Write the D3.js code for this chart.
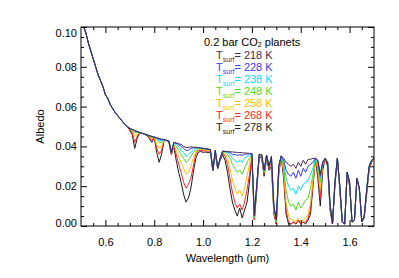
<!DOCTYPE html>
<html>
<head>
<meta charset="utf-8">
<script src="https://cdn.jsdelivr.net/npm/d3@7"></script>
<style>
  body { margin: 0; background: #fff; }
  svg { display: block; }
  text { font-family: "Liberation Sans", Arial, Helvetica, sans-serif; }
</style>
</head>
<body>
<svg id="chart" width="399" height="278"></svg>
<script>
// Wavelength grid (micron)
const wavelengths = [
  0.50, 0.51, 0.52, 0.53, 0.54, 0.55, 0.56, 0.57, 0.58, 0.59,
  0.60, 0.61, 0.62, 0.63, 0.64, 0.65, 0.66, 0.67, 0.68, 0.69,
  0.70, 0.71, 0.72, 0.73, 0.74, 0.75, 0.76, 0.77, 0.78, 0.79,
  0.80, 0.81, 0.82, 0.83, 0.84, 0.85, 0.86, 0.87, 0.88, 0.89,
  0.90, 0.91, 0.92, 0.93, 0.94, 0.95, 0.96, 0.97, 0.98, 0.99,
  1.00, 1.01, 1.02, 1.03, 1.04, 1.05, 1.06, 1.07, 1.08, 1.09,
  1.10, 1.11, 1.12, 1.13, 1.14, 1.15, 1.16, 1.17, 1.18, 1.19,
  1.20, 1.21, 1.22, 1.23, 1.24, 1.25, 1.26, 1.27, 1.28, 1.29,
  1.30, 1.31, 1.32, 1.33, 1.34, 1.35, 1.36, 1.37, 1.38, 1.39,
  1.40, 1.41, 1.42, 1.43, 1.44, 1.45, 1.46, 1.47, 1.48, 1.49,
  1.50, 1.51, 1.52, 1.53, 1.54, 1.55, 1.56, 1.57, 1.58, 1.59,
  1.60, 1.61, 1.62, 1.63, 1.64, 1.65, 1.66, 1.67, 1.68, 1.69,
  1.70
];

// Rayleigh part shared by all planets (0.50 - 0.69)
const albedoHead = [
  .104, .1005, .097, .092, .088, .084, .080, .076, .073, .070,
  .066, .064, .061, .059, .057, .0555, .054, .0525, .051, .050
];

// 0.70 - 1.70 for each surface temperature
const alb278 = [
  .048, .046, .039, .044, .047, .0466, .046, .0455, .044, .042,
  .0445, .037, .032, .036, .043, .043, .042, .036, .040, .033,
  .027, .022, .016, .012, .014, .019, .027, .034, .037, .0375,
  .037, .0372, .0368, .0372, .028, .036, .029, .033, .036, .033,
  .027, .019, .012, .008, .005, .009, .004, .008, .012, .022,
  .034, .003, .018, .035, .034, .025, .034, .028, .030, .006,
  .001, .026, .035, .024, .006, .001, .001, .002, .001, .003,
  .001, .002, .001, .003, .006, .020, .034, .024, .010, .028,
  .034, .030, .008, .001, .020, .034, .018, .002, .001, .027,
  .020, .002, .003, .024, .018, .002, .004, .016, .028, .032,
  .034
];
const alb268 = [
  .0485, .047, .042, .045, .047, .0466, .046, .0456, .0445, .043,
  .0446, .039, .036, .038, .0432, .043, .0425, .036, .040, .036,
  .031, .027, .022, .019, .021, .024, .030, .036, .038, .038,
  .0378, .0378, .0375, .038, .028, .037, .029, .034, .0372, .035,
  .031, .024, .017, .012, .009, .011, .008, .012, .018, .026,
  .035, .003, .019, .0355, .035, .026, .035, .029, .032, .007,
  .001, .027, .035, .026, .008, .002, .001, .002, .001, .003,
  .001, .002, .002, .004, .008, .021, .034, .027, .014, .030,
  .034, .031, .009, .001, .021, .034, .019, .002, .001, .027,
  .021, .002, .003, .024, .019, .002, .005, .017, .029, .0325,
  .034
];
const alb258 = [
  .049, .048, .045, .046, .047, .0466, .0462, .0458, .045, .044,
  .0447, .041, .039, .040, .0434, .043, .0427, .037, .041, .038,
  .035, .032, .029, .026, .027, .030, .034, .037, .0385, .0385,
  .0384, .0383, .038, .0382, .028, .0375, .029, .034, .0375, .036,
  .034, .029, .023, .019, .016, .018, .015, .019, .025, .031,
  .0355, .004, .020, .0358, .0355, .027, .0355, .030, .033, .008,
  .002, .028, .0352, .028, .012, .005, .003, .003, .002, .004,
  .002, .003, .004, .006, .012, .023, .034, .029, .018, .031,
  .034, .032, .010, .001, .022, .034, .020, .002, .001, .027,
  .022, .002, .003, .024, .019, .002, .005, .018, .030, .033,
  .034
];
const alb248 = [
  .049, .0485, .047, .047, .047, .0466, .0462, .0458, .0452, .0445,
  .0447, .043, .042, .042, .0434, .043, .0427, .037, .041, .040,
  .038, .036, .034, .032, .033, .035, .037, .038, .039, .039,
  .0388, .0386, .0384, .0383, .028, .038, .029, .034, .0376, .037,
  .036, .034, .031, .029, .027, .028, .026, .029, .032, .034,
  .036, .004, .020, .036, .0358, .027, .0356, .030, .034, .009,
  .002, .029, .0352, .030, .018, .012, .010, .011, .008, .012,
  .009, .011, .013, .014, .019, .026, .034, .031, .022, .032,
  .034, .032, .010, .001, .022, .034, .020, .002, .001, .027,
  .022, .002, .003, .024, .019, .002, .005, .018, .030, .033,
  .034
];
const alb238 = [
  .049, .0485, .0475, .0475, .047, .0466, .0462, .0458, .0454, .045,
  .0447, .0438, .043, .043, .0434, .043, .0427, .037, .0415, .041,
  .040, .038, .037, .035, .036, .037, .038, .039, .0392, .039,
  .039, .0388, .0386, .0384, .028, .038, .029, .034, .0376, .0374,
  .037, .036, .034, .033, .032, .033, .032, .034, .035, .0355,
  .0362, .005, .021, .036, .0358, .028, .0356, .030, .0345, .010,
  .003, .030, .0352, .032, .024, .020, .018, .019, .016, .020,
  .018, .021, .022, .023, .026, .029, .034, .032, .024, .032,
  .034, .032, .011, .001, .022, .034, .020, .002, .001, .027,
  .022, .002, .003, .024, .019, .002, .005, .018, .030, .033,
  .034
];
const alb228 = [
  .049, .0485, .048, .0475, .047, .0466, .0462, .0458, .0454, .045,
  .0447, .0442, .0436, .0433, .0434, .043, .0427, .037, .042, .0415,
  .041, .040, .039, .038, .038, .039, .0392, .0394, .0394, .0392,
  .039, .0388, .0386, .0384, .028, .038, .029, .034, .0376, .0375,
  .0372, .037, .036, .036, .0355, .0358, .0355, .036, .0362, .0362,
  .0364, .005, .021, .036, .0358, .028, .0356, .030, .035, .010,
  .003, .030, .0352, .033, .028, .026, .025, .027, .024, .028,
  .025, .029, .027, .030, .031, .032, .034, .033, .025, .032,
  .034, .032, .011, .001, .022, .034, .020, .002, .001, .027,
  .022, .002, .003, .024, .019, .002, .005, .018, .030, .033,
  .034
];
const alb218 = [
  .049, .0485, .048, .0475, .047, .0466, .0462, .0458, .0454, .045,
  .0447, .0444, .044, .0437, .0434, .043, .0427, .037, .042, .0418,
  .0413, .041, .040, .0395, .0395, .0398, .0396, .0396, .0394, .0392,
  .039, .0388, .0386, .0384, .028, .038, .029, .034, .0376, .0375,
  .0374, .0373, .0372, .0371, .037, .0369, .0368, .0367, .0366, .0365,
  .0364, .005, .021, .036, .0358, .028, .0356, .030, .035, .010,
  .003, .030, .0352, .034, .032, .031, .030, .031, .029, .032,
  .030, .033, .031, .0335, .0335, .034, .034, .033, .026, .032,
  .034, .032, .011, .001, .022, .034, .020, .002, .001, .027,
  .022, .002, .003, .024, .019, .002, .005, .018, .030, .033,
  .034
];

const temps = [218, 228, 238, 248, 258, 268, 278];
const colors = ["#47284d", "#3838ff", "#00e1ff", "#4fdc1e", "#ffbe00", "#ff2626", "#1a1a1a"];
const tails = [alb218, alb228, alb238, alb248, alb258, alb268, alb278];

const xTicks = [0.6, 0.8, 1.0, 1.2, 1.4, 1.6];
const xMinor = [0.55, 0.65, 0.7, 0.75, 0.85, 0.9, 0.95, 1.05, 1.1, 1.15, 1.25, 1.3, 1.35, 1.45, 1.5, 1.55, 1.65];
const yTicks = [0.00, 0.02, 0.04, 0.06, 0.08, 0.10];
const yMinor = [0.005, 0.01, 0.015, 0.025, 0.03, 0.035, 0.045, 0.05, 0.055,
                0.065, 0.07, 0.075, 0.085, 0.09, 0.095];

// Set up SVG
const svg = d3.select("#chart");
const plotLeft = 81, plotRight = 374, plotTop = 27, plotBottom = 226;

const x = d3.scaleLinear().domain([0.5, 1.7]).range([plotLeft, plotRight]);
const y = d3.scaleLinear().domain([0, 0.10]).range([plotBottom, plotTop]);

svg.append("defs").append("clipPath").attr("id", "plotClip")
  .append("rect")
  .attr("x", plotLeft).attr("y", plotTop)
  .attr("width", plotRight - plotLeft).attr("height", plotBottom - plotTop);

// Spectra, warmest first so the coolest sits on top
const line = d3.line()
  .x((d, i) => x(wavelengths[i]))
  .y(d => y(d));

const g = svg.append("g").attr("clip-path", "url(#plotClip)");
for (let k = temps.length - 1; k >= 0; k--) {
  g.append("path")
    .datum(albedoHead.concat(tails[k]))
    .attr("fill", "none")
    .attr("stroke", colors[k])
    .attr("stroke-width", 1)
    .attr("stroke-linejoin", "round")
    .attr("d", line);
}

// Axes (ticks point inward like IDL)
function styleAxis(sel) {
  sel.select(".domain").remove();
  sel.selectAll("line").attr("stroke", "#000");
  sel.selectAll("text").style("font-size", "11px").attr("fill", "#000");
}

svg.append("g").attr("transform", `translate(0,${plotBottom})`)
  .call(d3.axisBottom(x).tickValues(xTicks).tickSize(-6).tickPadding(12).tickFormat(d3.format(".1f")))
  .call(styleAxis);
svg.append("g").attr("transform", `translate(0,${plotBottom})`)
  .call(d3.axisBottom(x).tickValues(xMinor).tickSize(-3).tickFormat(""))
  .call(styleAxis);
svg.append("g").attr("transform", `translate(0,${plotTop})`)
  .call(d3.axisTop(x).tickValues(xTicks).tickSize(-6).tickFormat(""))
  .call(styleAxis);
svg.append("g").attr("transform", `translate(0,${plotTop})`)
  .call(d3.axisTop(x).tickValues(xMinor).tickSize(-3).tickFormat(""))
  .call(styleAxis);

const yAxis = svg.append("g").attr("transform", `translate(${plotLeft},0)`)
  .call(d3.axisLeft(y).tickValues(yTicks).tickSize(-6).tickPadding(4).tickFormat(d3.format(".2f")))
  .call(styleAxis);
// IDL pulls the end labels inside the frame
yAxis.selectAll("text").attr("dy", d => d === 0 ? "0px" : (d === 0.10 ? "9px" : "0.32em"));

svg.append("g").attr("transform", `translate(${plotLeft},0)`)
  .call(d3.axisLeft(y).tickValues(yMinor).tickSize(-3).tickFormat(""))
  .call(styleAxis);
svg.append("g").attr("transform", `translate(${plotRight},0)`)
  .call(d3.axisRight(y).tickValues(yTicks).tickSize(-6).tickFormat(""))
  .call(styleAxis);
svg.append("g").attr("transform", `translate(${plotRight},0)`)
  .call(d3.axisRight(y).tickValues(yMinor).tickSize(-3).tickFormat(""))
  .call(styleAxis);

// Frame
svg.append("rect")
  .attr("x", plotLeft).attr("y", plotTop)
  .attr("width", plotRight - plotLeft).attr("height", plotBottom - plotTop)
  .attr("fill", "none").attr("stroke", "#000").attr("stroke-width", 1);

// Axis labels
svg.append("text")
  .attr("x", (plotLeft + plotRight) / 2).attr("y", 262)
  .attr("text-anchor", "middle")
  .style("font-size", "11px")
  .text("Wavelength (μm)");

svg.append("text")
  .attr("transform", `translate(44,${(plotTop + plotBottom) / 2}) rotate(-90)`)
  .attr("text-anchor", "middle")
  .style("font-size", "11px")
  .text("Albedo");

// Legend
const title = svg.append("text").attr("x", 204).attr("y", 45.5).style("font-size", "11px");
title.append("tspan").text("0.2 bar CO");
title.append("tspan").attr("dy", 1.8).style("font-size", "7px").text("2");
title.append("tspan").attr("dy", -1.8).text(" planets");

temps.forEach((t, i) => {
  const row = svg.append("text")
    .attr("x", 216).attr("y", 59.2 + i * 12)
    .attr("fill", colors[i])
    .style("font-size", "11px");
  row.append("tspan").text("T");
  row.append("tspan").attr("dy", 2.5).style("font-size", "7px").text("surf");
  row.append("tspan").attr("dy", -2.5).text(`= ${t} K`);
});
</script>
</body>
</html>
